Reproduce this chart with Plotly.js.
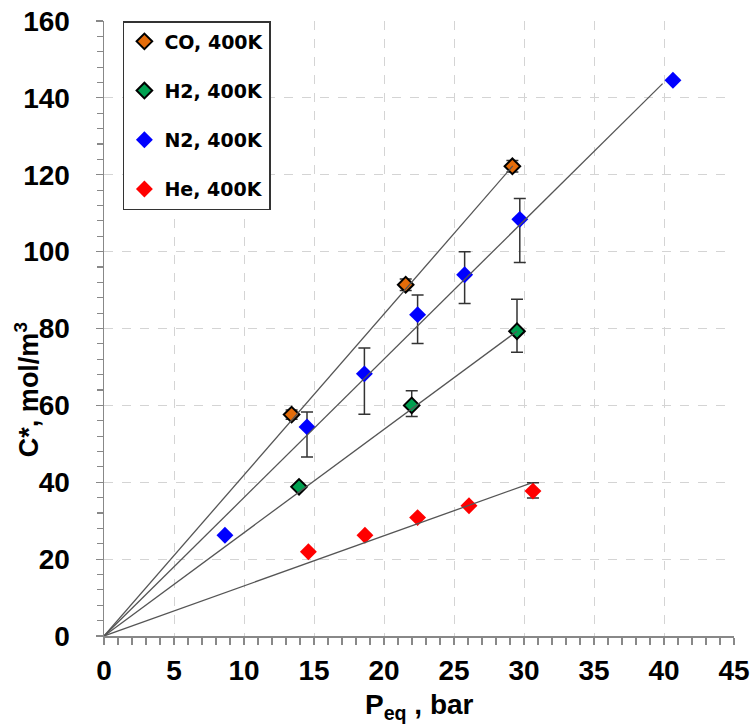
<!DOCTYPE html>
<html>
<head>
<meta charset="utf-8">
<script src="https://cdn.plot.ly/plotly-3.0.1.min.js"></script>
<style>html,body{margin:0;padding:0;background:#fff;}#chart{width:754px;height:725px;}</style>
</head>
<body>
<div id="chart"></div>
<script>
// ---- data ----
const coX = [13.4, 21.55, 29.17];
const coY = [57.6, 91.4, 122.2];
const coErr = [1.2, 1.5, 1.5];

const h2X = [13.93, 21.98, 29.5];
const h2Y = [38.8, 60.0, 79.3];
const h2ErrPlus = [0, 3.8, 8.3];
const h2ErrMinus = [0, 2.9, 5.5];

const n2X = [8.64, 14.5, 18.6, 22.4, 25.76, 29.7, 40.64];
const n2Y = [26.2, 54.4, 68.2, 83.6, 94.0, 108.4, 144.6];
const n2ErrPlus = [0, 3.9, 6.7, 5.1, 6.0, 5.4, 0];
const n2ErrMinus = [0, 7.8, 10.5, 7.5, 7.5, 11.2, 0];

const heX = [14.6, 18.64, 22.4, 26.07, 30.64];
const heY = [21.9, 26.2, 30.8, 33.9, 37.7];
const heErrPlus = [0, 0, 0, 0, 2.2];
const heErrMinus = [0, 0, 0, 0, 1.8];

// linear fits through the origin (end points)
const coFitX = [0, 29.2],  coFitY = [0, 122.3];
const n2FitX = [0, 39.9],  n2FitY = [0, 143.7];
const h2FitX = [0, 29.5],  h2FitY = [0, 79.3];
const heFitX = [0, 30.6],  heFitY = [0, 39.9];

const names = ['CO, 400K', 'H2, 400K', 'N2, 400K', 'He, 400K'];
const xTickVals = [0, 5, 10, 15, 20, 25, 30, 35, 40, 45];
const yTickVals = [0, 20, 40, 60, 80, 100, 120, 140, 160];
const xTitle = '<b>P<sub>eq</sub> , bar</b>';
const yTitle = '<b>C*, mol/m<sup>3</sup></b>';

// ---- styling ----
const FONT = 'Liberation Sans, Arial, sans-serif';
const errStyle = {color: '#333333', thickness: 1.5, width: 6};
function errBar(plus, minus) {
  return Object.assign({type: 'data', symmetric: false, array: plus, arrayminus: minus, visible: true}, errStyle);
}
function fit(x, y) {
  return {x: x, y: y, mode: 'lines', type: 'scatter', showlegend: false, hoverinfo: 'skip',
          line: {color: '#555555', width: 1.3}};
}

const traces = [
  {x: coX, y: coY, name: names[0], legendgroup: 'co', type: 'scatter', mode: 'markers',
   marker: {symbol: 'diamond', size: 12, color: '#E46C0A', line: {color: '#000', width: 2}},
   error_y: errBar(coErr, coErr)},
  {x: h2X, y: h2Y, name: names[1], legendgroup: 'h2', type: 'scatter', mode: 'markers',
   marker: {symbol: 'diamond', size: 12, color: '#00A050', line: {color: '#000', width: 2}},
   error_y: errBar(h2ErrPlus, h2ErrMinus)},
  {x: n2X, y: n2Y, name: names[2], legendgroup: 'n2', type: 'scatter', mode: 'markers',
   marker: {symbol: 'diamond', size: 13, color: '#0000FF'},
   error_y: errBar(n2ErrPlus, n2ErrMinus)},
  {x: heX, y: heY, name: names[3], legendgroup: 'he', type: 'scatter', mode: 'markers',
   marker: {symbol: 'diamond', size: 13, color: '#FF0000'},
   error_y: errBar(heErrPlus, heErrMinus)},
  fit(coFitX, coFitY), fit(n2FitX, n2FitY), fit(h2FitX, h2FitY), fit(heFitX, heFitY)
];

const axisCommon = {
  showline: true, linecolor: '#888888', linewidth: 1.5, mirror: false,
  ticks: 'outside', ticklen: 7, tickcolor: '#888888', tickwidth: 1.2,
  showgrid: true, gridcolor: '#d4d4d4', griddash: 'dash', gridwidth: 1,
  zeroline: false, tickfont: {family: FONT, size: 28, color: '#000', weight: 'bold'},
  tickmode: 'array'
};

const layout = {
  width: 754, height: 725,
  margin: {l: 104, r: 20, t: 21, b: 89},
  paper_bgcolor: '#fff', plot_bgcolor: '#fff',
  font: {family: FONT, color: '#000'},
  showlegend: true,
  xaxis: Object.assign({}, axisCommon, {
    range: [0, 45], tickvals: xTickVals, ticktext: xTickVals.map(String),
    ticklabelstandoff: 2,
    minor: {dtick: 1, ticks: 'outside', ticklen: 7, tickcolor: '#888888', tickwidth: 1.2, showgrid: false}
  }),
  yaxis: Object.assign({}, axisCommon, {
    range: [0, 160], tickvals: yTickVals, ticktext: yTickVals.map(String),
    ticklabelstandoff: 20,
    minor: {dtick: 4, ticks: 'outside', ticklen: 6, tickcolor: '#888888', tickwidth: 1.2, showgrid: false}
  }),
  legend: {
    x: 0.03, y: 1.0, xanchor: 'left', yanchor: 'top',
    bgcolor: '#ffffff', bordercolor: '#333333', borderwidth: 1.5,
    font: {family: 'DejaVu Sans, sans-serif', size: 19, color: '#000', weight: 'bold'},
    traceorder: 'grouped', tracegroupgap: 21.5, itemwidth: 30
  },
  annotations: [
    {text: yTitle, textangle: -90,
     xref: 'paper', yref: 'paper', x: -0.122, y: 0.40, xanchor: 'center', yanchor: 'middle',
     showarrow: false, font: {family: FONT, size: 27, color: '#000'}},
    {text: xTitle,
     xref: 'paper', yref: 'paper', x: 0.5, y: -0.114, xanchor: 'center', yanchor: 'middle',
     showarrow: false, font: {family: FONT, size: 28, color: '#000'}}
  ]
};

Plotly.newPlot('chart', traces, layout, {displayModeBar: false, staticPlot: true});
</script>
</body>
</html>
